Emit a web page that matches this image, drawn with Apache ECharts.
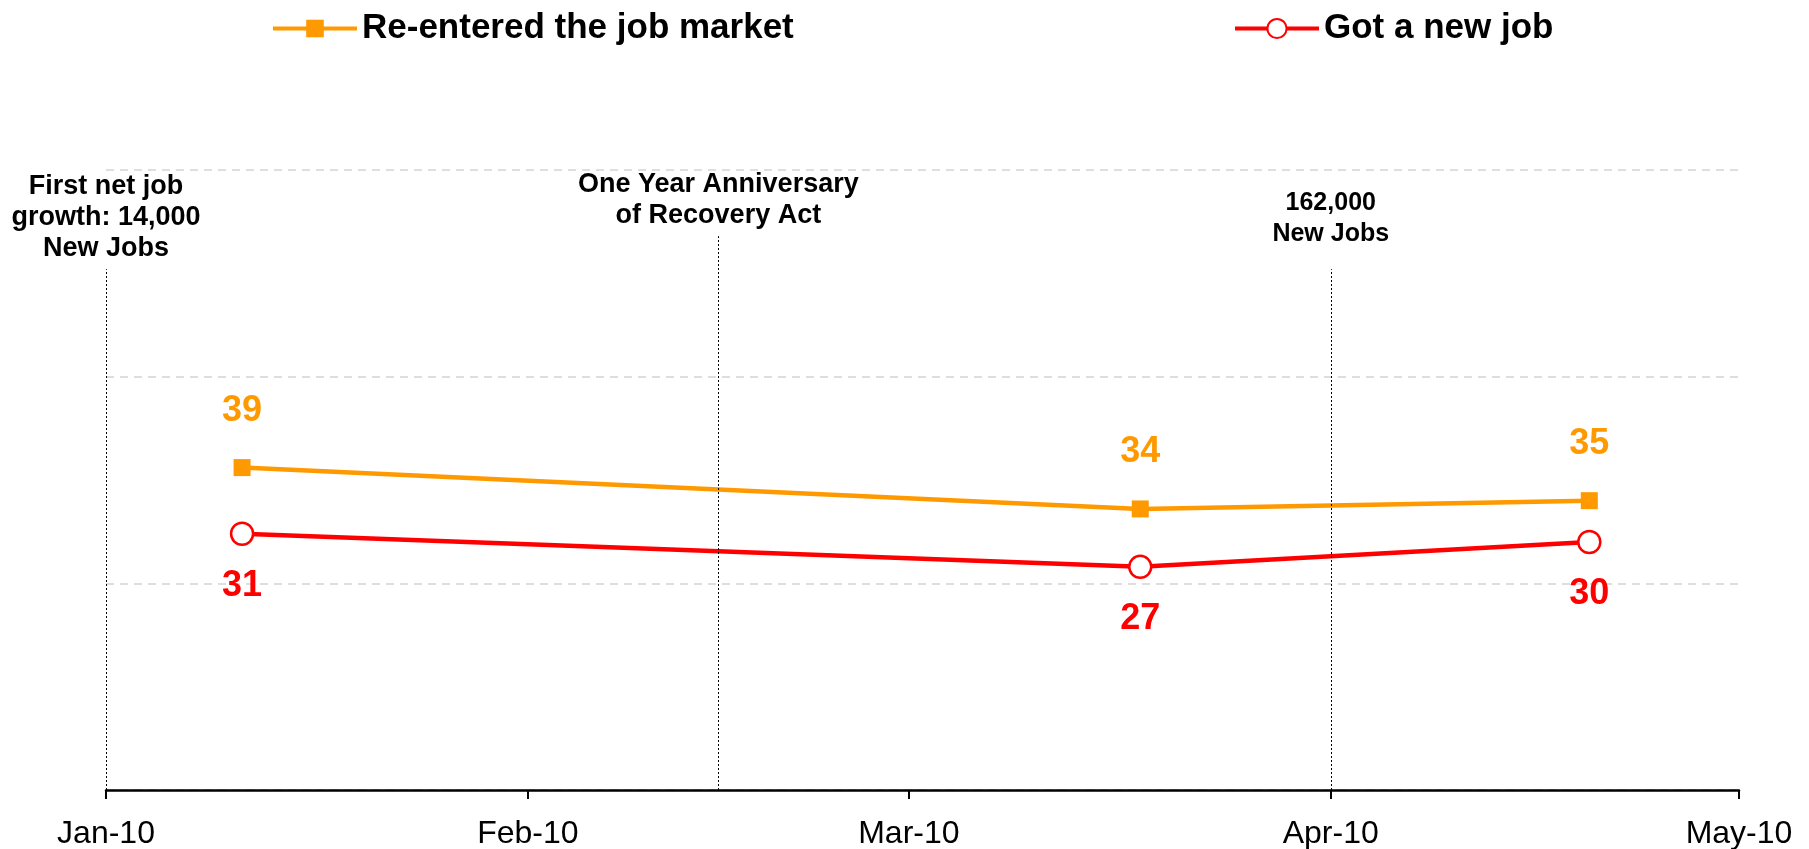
<!DOCTYPE html>
<html>
<head>
<meta charset="utf-8">
<style>
  html, body { margin: 0; padding: 0; background: #fff; }
  #chart { width: 1809px; height: 849px; }
</style>
<script src="https://cdn.jsdelivr.net/npm/echarts@6/dist/echarts.min.js"></script>
</head>
<body>
<div id="chart"></div>
<script>
// survey dates and values
const dates = ["2010-01-11", "2010-03-18", "2010-04-20"]
const reentered = [39, 34, 35]
const gotNewJob = [31, 27, 30]

// x axis ticks (month starts)
const monthTicks = ["2010-01-01", "2010-02-01", "2010-03-01", "2010-04-01", "2010-05-01"]
const monthNames = ["Jan", "Feb", "Mar", "Apr", "May", "Jun", "Jul", "Aug", "Sep", "Oct", "Nov", "Dec"]

// event markers
const eventDates = ["2010-01-01", "2010-02-15", "2010-04-01"]
const eventTops = [63, 67, 63]
const eventLabels = [
    "First net job\ngrowth: 14,000\nNew Jobs",
    "One Year Anniversary\nof Recovery Act",
    "162,000\nNew Jobs"
]
const eventLabelGap = [5, 5, 20]

;(function () {
    let myChart = echarts.init(document.getElementById("chart"))
    const t = s => +echarts.time.parse(s)
    const tickValues = monthTicks.map(t)
    const font = "'Liberation Sans', Arial, sans-serif"

    let markData = eventDates.map(function (d, i) {
        return [
            {
                coord: [t(d), 0],
                label: {
                    show: true,
                    position: "end",
                    distance: eventLabelGap[i],
                    formatter: eventLabels[i],
                    color: "#000",
                    fontFamily: font,
                    fontWeight: "bold",
                    fontSize: i === 2 ? 25 : 27,
                    lineHeight: 31,
                    align: "center"
                }
            },
            { coord: [t(d), eventTops[i]] }
        ]
    })

    let legendText = { fontSize: 35, fontWeight: "bold", color: "#000", fontFamily: font }

    let option = {
        animation: false,
        textStyle: { fontFamily: font },
        legend: [
            {
                data: ["Re-entered the job market"],
                left: 266,
                top: 6,
                itemWidth: 84,
                itemHeight: 22,
                lineStyle: { width: 4 },
                textStyle: legendText
            },
            {
                data: ["Got a new job"],
                left: 1228,
                top: 6,
                itemWidth: 84,
                itemHeight: 24,
                lineStyle: { width: 4 },
                textStyle: legendText
            }
        ],
        grid: {
            left: 106,
            right: 70,
            top: 170,
            bottom: 59,
            outerBoundsMode: "none"
        },
        xAxis: {
            type: "value",
            min: tickValues[0],
            max: tickValues[tickValues.length - 1],
            axisLine: { lineStyle: { color: "#000", width: 2.5 } },
            axisTick: {
                customValues: tickValues,
                length: 9,
                lineStyle: { color: "#000", width: 2 }
            },
            axisLabel: {
                customValues: tickValues,
                margin: 28,
                fontSize: 32,
                color: "#000",
                fontFamily: font,
                formatter: function (v) {
                    let d = new Date(v)
                    return monthNames[d.getMonth()] + "-" + String(d.getFullYear()).slice(2)
                }
            },
            splitLine: { show: false }
        },
        yAxis: {
            type: "value",
            min: 0,
            max: 75,
            interval: 25,
            axisLine: { show: false },
            axisTick: { show: false },
            axisLabel: { show: false },
            splitLine: {
                lineStyle: { color: "#d4d4d4", width: 1.5, type: [8, 6] }
            }
        },
        series: [
            {
                name: "Re-entered the job market",
                type: "line",
                data: dates.map((d, i) => [t(d), reentered[i]]),
                symbol: "rect",
                symbolSize: 17,
                color: "#ff9900",
                lineStyle: { width: 4.5, color: "#ff9900" },
                itemStyle: { color: "#ff9900" },
                label: {
                    show: true,
                    position: "top",
                    distance: 30,
                    fontSize: 36,
                    fontWeight: "bold",
                    color: "#ff9900",
                    fontFamily: font,
                    formatter: p => p.value[1]
                },
                markLine: {
                    silent: true,
                    symbol: "none",
                    lineStyle: { color: "#000", width: 1, type: [2, 2] },
                    data: markData
                },
                z: 3
            },
            {
                name: "Got a new job",
                type: "line",
                data: dates.map((d, i) => [t(d), gotNewJob[i]]),
                symbol: "circle",
                symbolSize: 22,
                color: "#ff0000",
                lineStyle: { width: 4.5, color: "#ff0000" },
                itemStyle: { color: "#fff", borderColor: "#ff0000", borderWidth: 2.5 },
                label: {
                    show: true,
                    position: "bottom",
                    distance: 22,
                    fontSize: 36,
                    fontWeight: "bold",
                    color: "#ff0000",
                    fontFamily: font,
                    formatter: p => p.value[1]
                },
                z: 3
            }
        ]
    }
    myChart.setOption(option)
    window.addEventListener("resize", function () {
        myChart.resize()
    })
})();
</script>
</body>
</html>
